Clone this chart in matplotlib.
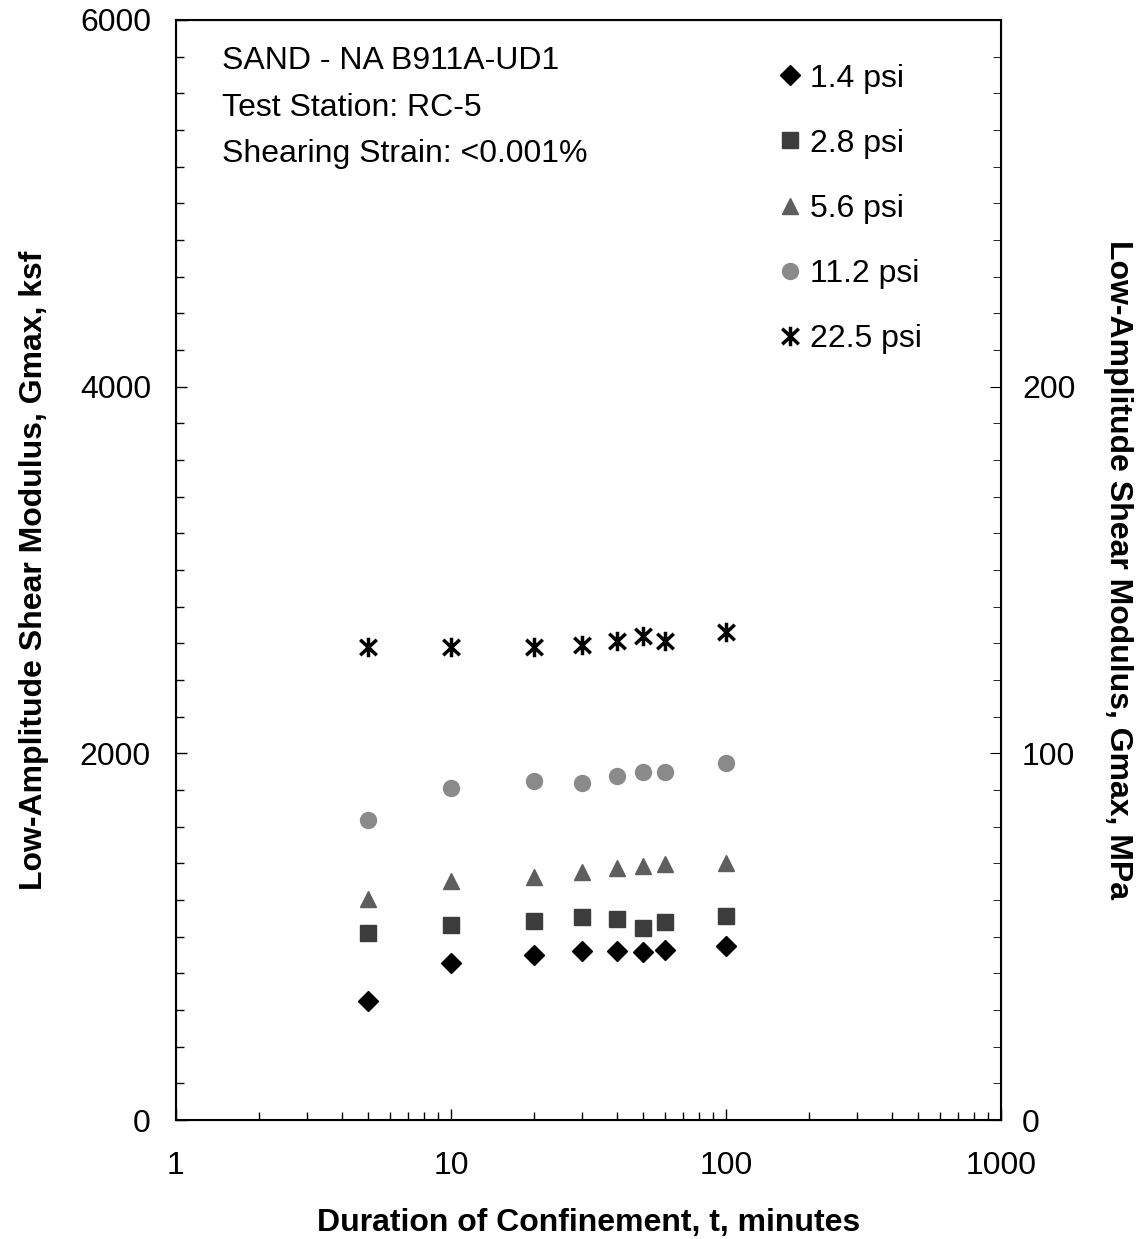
import matplotlib
matplotlib.use("Agg")
import matplotlib.pyplot as plt
from matplotlib.path import Path
from matplotlib.ticker import MultipleLocator, FixedLocator, NullFormatter, FuncFormatter

plt.rcParams['font.family'] = ['Liberation Sans', 'DejaVu Sans']

# duration of confinement, minutes
t_min = [5, 10, 20, 30, 40, 50, 60, 100]

# Gmax, ksf, one list per confining pressure
g_14 = [649, 856, 900, 922, 922, 916, 927, 949]
g_28 = [1020, 1064, 1085, 1107, 1096, 1047, 1080, 1113]
g_56 = [1205, 1304, 1325, 1353, 1375, 1385, 1396, 1402]
g_112 = [1636, 1811, 1849, 1838, 1877, 1898, 1898, 1947]
g_225 = [2580, 2580, 2580, 2591, 2613, 2640, 2613, 2662]

labels = ['1.4 psi', '2.8 psi', '5.6 psi', '11.2 psi', '22.5 psi']
KSF_PER_MPA = 20.0

# asterisk: vertical bar plus an X
star = Path([(0, -1), (0, 1), (-0.85, 0.8), (0.85, -0.8), (-0.85, -0.8), (0.85, 0.8)],
            [Path.MOVETO, Path.LINETO, Path.MOVETO, Path.LINETO, Path.MOVETO, Path.LINETO])

fig = plt.figure(figsize=(11.39, 12.39), dpi=100)
ax = fig.add_axes([0.1545, 0.0960, 0.7244, 0.8879])

styles = [
    dict(marker='D', color='black', markersize=10),
    dict(marker='s', color='#3c3c3c', markersize=11),
    dict(marker='^', color='#5e5e5e', markersize=12),
    dict(marker='o', color='#8a8a8a', markersize=11.5),
    dict(marker=star, color='black', markersize=14, markeredgewidth=2.5),
]
series = [g_14, g_28, g_56, g_112, g_225]
for vals, lab, st in zip(series, labels, styles):
    ax.plot(t_min, vals, linestyle='none', label=lab, **st)

ax.set_xscale('log')
ax.set_xlim(1, 1000)
ax.set_ylim(0, 6000)
ax.set_yticks([0, 2000, 4000, 6000])
ax.yaxis.set_minor_locator(MultipleLocator(200))
ax.xaxis.set_major_formatter(FuncFormatter(lambda v, p: f'{v:g}'))
ax.xaxis.set_minor_formatter(NullFormatter())
ax.tick_params(which='both', direction='in', labelsize=23)
ax.tick_params(which='major', length=8, width=1)
ax.tick_params(which='minor', length=6, width=1)
ax.tick_params(axis='x', which='major', pad=22)
ax.tick_params(axis='y', which='major', pad=18)
for s in ax.spines.values():
    s.set_linewidth(1.5)

ax.set_xlabel('Duration of Confinement, t, minutes', fontsize=23, fontweight='bold', labelpad=20)
ax.set_ylabel('Low-Amplitude Shear Modulus, Gmax, ksf', fontsize=23, fontweight='bold', labelpad=22)

ax2 = ax.twinx()
ax2.set_ylim(0, 6000 / KSF_PER_MPA)
ax2.yaxis.set_major_locator(FixedLocator([0, 100, 200]))
ax2.yaxis.set_minor_locator(MultipleLocator(10))
ax2.tick_params(which='both', direction='in', labelsize=23, pad=15)
ax2.tick_params(which='major', length=8)
ax2.tick_params(which='minor', length=6)
fig.text(1118 / 1139, 0.54, 'Low-Amplitude Shear Modulus, Gmax, MPa', fontsize=23,
         fontweight='bold', rotation=270, ha='center', va='center')

ax.text(0.0558, 0.976, 'SAND - NA B911A-UD1\nTest Station: RC-5\nShearing Strain: <0.001%',
        transform=ax.transAxes, fontsize=23, va='top', ha='left', linespacing=1.72)

ax.legend(loc='upper left', bbox_to_anchor=(0.7176, 0.972), frameon=False, fontsize=23,
          handlelength=0.6, handletextpad=0.3, labelspacing=1.1, borderaxespad=0)

fig.savefig('out.png', dpi=100)
